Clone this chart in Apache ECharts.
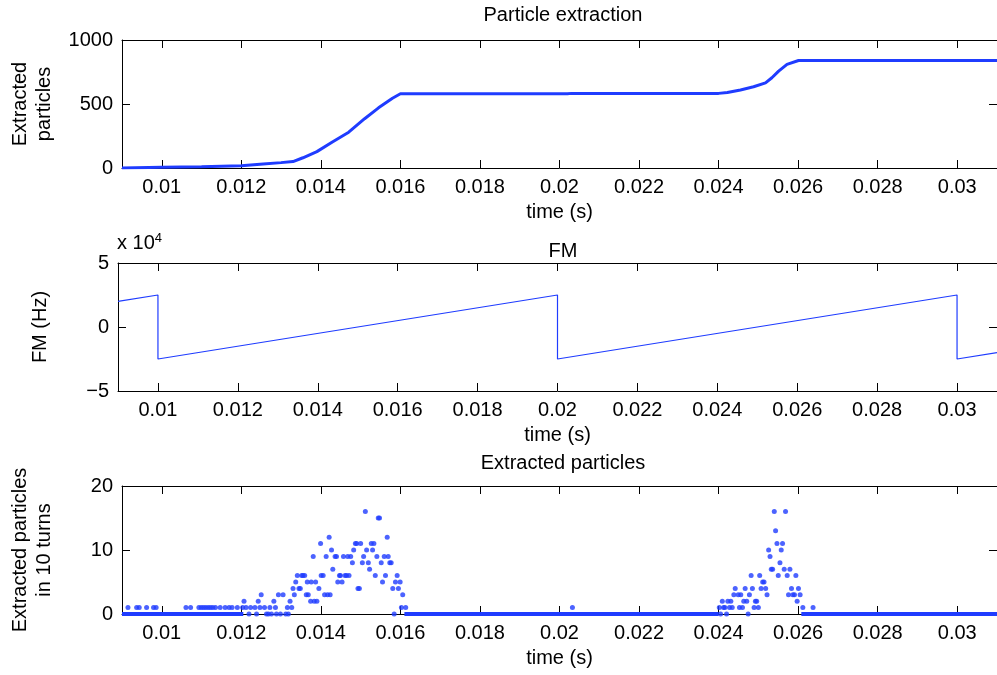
<!DOCTYPE html>
<html>
<head>
<meta charset="utf-8">
<script src="https://cdn.jsdelivr.net/npm/echarts@6/dist/echarts.min.js"></script>
<style>
  html, body { margin: 0; padding: 0; background: #fff; }
  #chart { width: 997px; height: 675px; }
</style>
</head>
<body>
<div id="chart"></div>
<script>
// time ticks shared by the three panels
const xTicks = [0.01, 0.012, 0.014, 0.016, 0.018, 0.02, 0.022, 0.024, 0.026, 0.028, 0.03];

// panel 1: cumulative extracted particles
const partTime = [0.009, 0.0100, 0.0110, 0.0120, 0.01255, 0.0130, 0.0133, 0.01355, 0.0139, 0.0143, 0.0147,
  0.0151, 0.01545, 0.0158, 0.0160, 0.0202, 0.0203, 0.0240, 0.02422, 0.02455, 0.02488, 0.02518, 0.02534,
  0.02551, 0.02572, 0.02601, 0.031];
const partCount = [0, 5, 10, 18, 32, 42, 50, 80, 128, 205, 280,
  385, 470, 545, 580, 580, 583, 583, 590, 610, 635, 665, 705,
  757, 810, 840, 840];

// panel 2: FM sawtooth (Hz)
const fmTime = [0.009, 0.01, 0.01, 0.02, 0.02, 0.03, 0.03, 0.031];
const fmValue = [20000, 25000, -25000, 25000, -25000, 25000, -25000, -20000];

// panel 3: extracted particles per 10 turns (non-baseline dots)
const dotTime = [
  0.00915, 0.009368, 0.009433, 0.009618, 0.009793, 0.009858, 0.010608, 0.010725, 0.010933, 0.010993,
  0.01105, 0.011108, 0.011168, 0.011225, 0.011283, 0.01135, 0.011468, 0.011593, 0.011693, 0.011768,
  0.0119, 0.012033, 0.012068, 0.012118, 0.012193, 0.012233, 0.012343, 0.012383, 0.012425, 0.012468,
  0.0125, 0.012583, 0.012633, 0.012683, 0.012718, 0.012758, 0.012818, 0.012858, 0.012883, 0.012933,
  0.012983, 0.01305, 0.013118, 0.013158, 0.013183, 0.013225, 0.013268, 0.0133, 0.013333, 0.013368,
  0.013408, 0.01345, 0.013483, 0.013518, 0.01355, 0.013593, 0.013633, 0.013658, 0.013683, 0.013743,
  0.013758, 0.013808, 0.013833, 0.013868, 0.0139, 0.01395, 0.013993, 0.014008, 0.014058, 0.014093,
  0.014133, 0.014168, 0.014208, 0.014233, 0.014268, 0.0143, 0.014358, 0.014393, 0.014425, 0.014468,
  0.014493, 0.014533, 0.014568, 0.014608, 0.014643, 0.014675, 0.014708, 0.01475, 0.014793, 0.014825,
  0.014868, 0.0149, 0.014933, 0.014968, 0.015, 0.015043, 0.015075, 0.015118, 0.01515, 0.015193,
  0.015225, 0.015268, 0.0153, 0.015333, 0.015368, 0.015408, 0.015443, 0.015475, 0.015518, 0.01555,
  0.015593, 0.015625, 0.015668, 0.015693, 0.015733, 0.015768, 0.015808, 0.015843, 0.015875, 0.015918,
  0.01595, 0.015993, 0.016025, 0.016058, 0.016133,
  0.020325,
  0.024018, 0.02405, 0.024093, 0.024125, 0.024158, 0.0242, 0.024233, 0.024275, 0.024308, 0.024343,
  0.024383, 0.024418, 0.024493, 0.024525, 0.024558, 0.0246, 0.024633, 0.024668, 0.024708, 0.024743,
  0.024775, 0.024818, 0.02485, 0.024893, 0.024925, 0.024958, 0.025, 0.025033, 0.025068, 0.025108,
  0.025143, 0.025183, 0.025218, 0.025258, 0.025293, 0.025325, 0.025358, 0.0254, 0.025433, 0.025468,
  0.0255, 0.025543, 0.025575, 0.025608, 0.02565, 0.025683, 0.025725, 0.025758, 0.025793, 0.025833,
  0.025868, 0.025908, 0.025943, 0.025975, 0.026008, 0.02605, 0.026118, 0.026375
];
const dotCount = [
  1, 1, 1, 1, 1, 1, 1, 1, 1, 1,
  1, 1, 1, 1, 1, 1, 1, 1, 1, 1,
  1, 1, 2, 1, 0, 1, 1, 0, 2, 1,
  3, 1, 0, 0, 1, 0, 2, 1, 0, 3,
  0, 3, 0, 1, 0, 2, 1, 4, 3, 5,
  6, 4, 4, 6, 6, 6, 3, 5, 3, 2,
  5, 9, 2, 5, 2, 4, 11, 6, 6, 3,
  9, 3, 12, 3, 10, 7, 9, 9, 5, 6,
  6, 5, 9, 6, 6, 9, 6, 9, 8, 10,
  11, 11, 4, 4, 11, 8, 9, 16, 10, 8,
  7, 11, 10, 11, 6, 9, 15, 15, 8, 5,
  9, 6, 12, 9, 8, 8, 4, 0, 5, 6,
  4, 5, 1, 3, 1,
  1,
  1, 0, 2, 1, 1, 0, 2, 1, 2, 1,
  3, 4, 3, 1, 3, 1, 2, 4, 2, 0,
  3, 6, 4, 1, 2, 2, 1, 6, 4, 5,
  5, 4, 3, 10, 9, 7, 7, 16, 13, 11,
  6, 8, 10, 11, 7, 16, 6, 3, 7, 4,
  3, 3, 6, 2, 4, 3, 1, 1
];
// stretches where the zero-count dots merge into a solid line
const zeroRuns = [[0.009, 0.01205], [0.0161, 0.024], [0.02608, 0.031]];

const blue = '#1f3cff';
const font = "'Liberation Sans', Arial, Helvetica, sans-serif";
const fs = 20;

const zip = (a, b) => a.map((v, i) => [v, b[i]]);

const grids = [
  { left: 118, width: 880, top: 40, height: 128 },
  { left: 118, width: 880, top: 263, height: 128 },
  { left: 118, width: 880, top: 486, height: 128 }
];

const axisLine = { show: true, onZero: false, lineStyle: { color: '#000', width: 1 } };

let xAxes = [], yAxes = [];
grids.forEach((g, i) => {
  xAxes.push({
    type: 'value', gridIndex: i, min: 0.009, max: 0.031, position: 'bottom',
    name: 'time (s)', nameLocation: 'middle', nameGap: 34,
    nameTextStyle: { color: '#000', fontSize: fs, fontFamily: font },
    axisLine: axisLine,
    axisTick: { inside: true, length: 8, customValues: xTicks, lineStyle: { color: '#000' } },
    axisLabel: { customValues: xTicks, color: '#000', fontSize: fs, fontFamily: font, margin: 9,
      formatter: v => String(+v.toFixed(3)) },
    splitLine: { show: false }
  });
  xAxes.push({
    type: 'value', gridIndex: i, min: 0.009, max: 0.031, position: 'top',
    axisLine: axisLine,
    axisTick: { inside: true, length: 8, customValues: xTicks, lineStyle: { color: '#000' } },
    axisLabel: { show: false },
    splitLine: { show: false }
  });
});

const yCfg = [
  { min: 0, max: 1000, interval: 500, name: 'Extracted\nparticles', fmt: v => String(v) },
  { min: -50000, max: 50000, interval: 50000, name: 'FM (Hz)',
    fmt: v => (v < 0 ? '\u2212' : '') + Math.abs(v / 10000) },
  { min: 0, max: 20, interval: 10, name: 'Extracted particles\nin 10 turns', fmt: v => String(v) }
];
yCfg.forEach((c, i) => {
  yAxes.push({
    type: 'value', gridIndex: i, min: c.min, max: c.max, interval: c.interval, position: 'left',
    name: c.name, nameLocation: 'middle', nameGap: 66, nameRotate: 90,
    nameTextStyle: { color: '#000', fontSize: fs, fontFamily: font, lineHeight: 24 },
    axisLine: axisLine,
    axisTick: { show: true, inside: true, length: 8, lineStyle: { color: '#000' } },
    axisLabel: { color: '#000', fontSize: fs, fontFamily: font, margin: 9, formatter: c.fmt },
    splitLine: { show: false }
  });
  yAxes.push({
    type: 'value', gridIndex: i, min: c.min, max: c.max, interval: c.interval, position: 'right',
    axisLine: axisLine,
    axisTick: { show: true, inside: true, length: 8, lineStyle: { color: '#000' } },
    axisLabel: { show: false },
    splitLine: { show: false }
  });
});

const titleStyle = { color: '#000', fontSize: fs, fontWeight: 'normal', fontFamily: font };

let series = [
  {
    type: 'line', xAxisIndex: 0, yAxisIndex: 0, data: zip(partTime, partCount),
    showSymbol: false, lineStyle: { color: blue, width: 3 }
  },
  {
    type: 'line', xAxisIndex: 2, yAxisIndex: 2, data: zip(fmTime, fmValue),
    showSymbol: false, lineStyle: { color: blue, width: 1.2 }
  },
  {
    type: 'scatter', xAxisIndex: 4, yAxisIndex: 4, data: zip(dotTime, dotCount),
    symbolSize: 5, itemStyle: { color: blue }
  }
];
zeroRuns.forEach(r => {
  series.push({
    type: 'line', xAxisIndex: 4, yAxisIndex: 4, data: [[r[0], 0], [r[1], 0]],
    showSymbol: false, lineStyle: { color: blue, width: 4 }
  });
});

const chart = echarts.init(document.getElementById('chart'), null, { renderer: 'canvas' });
chart.setOption({
  animation: false,
  backgroundColor: '#fff',
  title: [
    { text: 'Particle extraction', left: 558, top: 0, textAlign: 'center', textStyle: titleStyle },
    { text: 'FM', left: 558, top: 236, textAlign: 'center', textStyle: titleStyle },
    { text: 'Extracted particles', left: 558, top: 448, textAlign: 'center', textStyle: titleStyle }
  ],
  graphic: [{
    type: 'text', left: 117, top: 232,
    style: {
      text: 'x 10{sup|4}', fill: '#000', font: fs + 'px ' + font,
      rich: { sup: { fontSize: 13, fontFamily: font, verticalAlign: 'top', padding: [0, 0, 10, 0] } }
    }
  }],
  grid: grids,
  xAxis: xAxes,
  yAxis: yAxes,
  series: series
});
</script>
</body>
</html>
